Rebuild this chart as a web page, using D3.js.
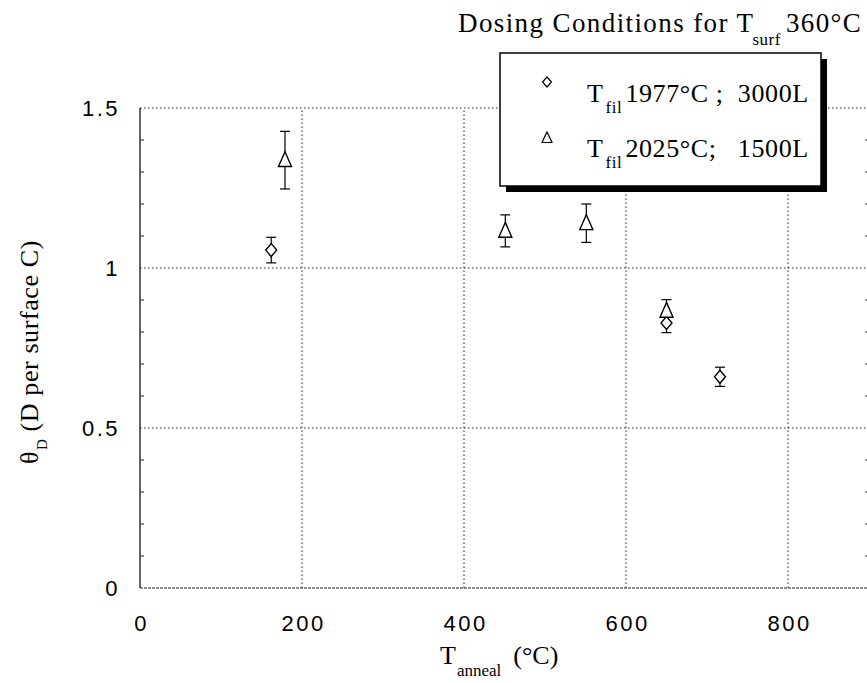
<!DOCTYPE html>
<html>
<head>
<meta charset="utf-8">
<script src="https://cdn.jsdelivr.net/npm/d3@7"></script>
<style>
    body { margin: 0; background: #fff; }
    svg { display: block; }
    .tick text { font-family: "Liberation Sans", Arial, sans-serif; font-size: 22px; letter-spacing: 2.5px; fill: #000; }
    .serif { font-family: "Liberation Serif", "Times New Roman", serif; fill: #000; white-space: pre; }
</style>
</head>
<body>
<div id="chart"></div>
<script>
// series 1: Tfil 1977°C ; 3000L (diamonds)
const diamondX = [162, 650, 716];
const diamondY = [1.056, 0.828, 0.66];
const diamondErr = [0.04, 0.03, 0.03];

// series 2: Tfil 2025°C ; 1500L (triangles)
const triangleX = [179, 451, 551, 650];
const triangleY = [1.337, 1.116, 1.14, 0.866];
const triangleErr = [0.09, 0.05, 0.06, 0.035];

const xTicks = [0, 200, 400, 600, 800];
const yTicks = [0, 0.5, 1, 1.5];
const yMinor = d3.range(1, 15).map((d) => d / 10);

const width = 867,
    height = 683;

const svg = d3
    .select("#chart")
    .append("svg")
    .attr("width", width)
    .attr("height", height);

const x = d3.scaleLinear().domain([0, 900]).range([140, 869]);
const y = d3.scaleLinear().domain([0, 1.5]).range([588, 108]);

// dotted grid
const grid = svg.append("g").attr("stroke", "#222").attr("stroke-width", 1).attr("stroke-dasharray", "1.5,2.5");
grid.selectAll(".gx")
    .data(xTicks.filter((d) => d > 0))
    .enter()
    .append("line")
    .attr("x1", (d) => x(d))
    .attr("x2", (d) => x(d))
    .attr("y1", y(0))
    .attr("y2", y(1.5));
grid.selectAll(".gy")
    .data([0.5, 1, 1.5])
    .enter()
    .append("line")
    .attr("x1", x(0))
    .attr("x2", x(900))
    .attr("y1", (d) => y(d))
    .attr("y2", (d) => y(d));

// frame: solid left, near-solid bottom
svg.append("line")
    .attr("x1", x(0)).attr("x2", x(0))
    .attr("y1", y(0)).attr("y2", y(1.5))
    .attr("stroke", "#000").attr("stroke-width", 1.2);
svg.append("line")
    .attr("x1", x(0)).attr("x2", x(900))
    .attr("y1", y(0)).attr("y2", y(0))
    .attr("stroke", "#222").attr("stroke-width", 1.2)
    .attr("stroke-dasharray", "3,1");

// minor ticks on both sides
const minor = svg.append("g").attr("stroke", "#333").attr("stroke-width", 1);
minor.selectAll(".ml")
    .data(yMinor.filter((d) => d % 0.5 !== 0))
    .enter()
    .append("line")
    .attr("x1", x(0)).attr("x2", x(0) + 4)
    .attr("y1", (d) => y(d)).attr("y2", (d) => y(d));
minor.selectAll(".mr")
    .data(yMinor.filter((d) => d % 0.5 !== 0))
    .enter()
    .append("line")
    .attr("x1", x(900) - 4).attr("x2", x(900))
    .attr("y1", (d) => y(d)).attr("y2", (d) => y(d));

// axes (labels only)
const xAxis = svg
    .append("g")
    .attr("transform", `translate(0, ${y(0)})`)
    .call(d3.axisBottom(x).tickValues(xTicks).tickSize(0).tickPadding(27).tickFormat((d) => String(d)));
xAxis.select(".domain").remove();
xAxis.selectAll("text").attr("dx", "1.2px");

const yAxis = svg
    .append("g")
    .attr("transform", `translate(${x(0)}, 0)`)
    .call(d3.axisLeft(y).tickValues(yTicks).tickSize(0).tickPadding(20).tickFormat((d) => String(d)));
yAxis.select(".domain").remove();

// error bars
function errorBars(xs, ys, es) {
    const g = svg.append("g").attr("stroke", "#000").attr("stroke-width", 1.2);
    xs.forEach((d, i) => {
        const cx = x(d);
        const top = y(ys[i] + es[i]);
        const bot = y(ys[i] - es[i]);
        g.append("line").attr("x1", cx).attr("x2", cx).attr("y1", top).attr("y2", bot);
        g.append("line").attr("x1", cx - 5).attr("x2", cx + 5).attr("y1", top).attr("y2", top);
        g.append("line").attr("x1", cx - 5).attr("x2", cx + 5).attr("y1", bot).attr("y2", bot);
    });
}
errorBars(diamondX, diamondY, diamondErr);
errorBars(triangleX, triangleY, triangleErr);

const diamondPath = (cx, cy, w, h) =>
    `M${cx},${cy - h} L${cx + w},${cy} L${cx},${cy + h} L${cx - w},${cy} Z`;
const trianglePath = (cx, cy, w, h) =>
    `M${cx},${cy - h} L${cx + w},${cy + h * 0.75} L${cx - w},${cy + h * 0.75} Z`;

svg.append("g")
    .selectAll("path")
    .data(diamondX)
    .enter()
    .append("path")
    .attr("d", (d, i) => diamondPath(x(d), y(diamondY[i]), 5.5, 6.5))
    .attr("fill", "#fff")
    .attr("stroke", "#000")
    .attr("stroke-width", 1.4);

svg.append("g")
    .selectAll("path")
    .data(triangleX)
    .enter()
    .append("path")
    .attr("d", (d, i) => trianglePath(x(d), y(triangleY[i]), 6.5, 8.5))
    .attr("fill", "#fff")
    .attr("stroke", "#000")
    .attr("stroke-width", 1.4);

// title
const title = svg.append("text")
    .attr("class", "serif")
    .attr("x", 458)
    .attr("y", 32)
    .style("font-size", "27px")
    .style("letter-spacing", "1.4px");
title.append("tspan").text("Dosing Conditions for T");
title.append("tspan").attr("dy", 13).attr("dx", -2).style("font-size", "17px").style("letter-spacing", "0.5px").text("surf");
title.append("tspan").attr("dy", -13).attr("dx", 5).text("360°C");

// legend box with drop shadow
const legend = svg.append("g");
legend.append("rect")
    .attr("x", 506).attr("y", 59)
    .attr("width", 321).attr("height", 133)
    .attr("fill", "#000");
legend.append("rect")
    .attr("x", 500).attr("y", 53)
    .attr("width", 321).attr("height", 133)
    .attr("fill", "#fff")
    .attr("stroke", "#000")
    .attr("stroke-width", 1.5);

legend.append("path")
    .attr("d", diamondPath(547, 82, 4.5, 5))
    .attr("fill", "none").attr("stroke", "#000").attr("stroke-width", 1.2);
legend.append("path")
    .attr("d", trianglePath(547, 138, 5, 6))
    .attr("fill", "none").attr("stroke", "#000").attr("stroke-width", 1.2);

const legendRows = [
    { y: 102, text: "1977°C ;  3000L" },
    { y: 157, text: "2025°C;   1500L" },
];
legendRows.forEach((r) => {
    const t = legend.append("text")
        .attr("class", "serif")
        .attr("x", 587)
        .attr("y", r.y)
        .style("font-size", "26px")
        .style("letter-spacing", "0.6px");
    t.append("tspan").text("T");
    t.append("tspan").attr("dy", 11).attr("dx", 2).style("font-size", "17px").text("fil");
    t.append("tspan").attr("dy", -11).attr("dx", 3).text(r.text);
});

// x axis label
const xl = svg.append("text")
    .attr("class", "serif")
    .attr("x", 440)
    .attr("y", 664)
    .style("font-size", "26px");
xl.append("tspan").text("T");
xl.append("tspan").attr("dy", 12).attr("dx", 1).style("font-size", "17px").text("anneal");
xl.append("tspan").attr("dy", -12).attr("dx", 12).text("(°C)");

// y axis label
const yl = svg.append("text")
    .attr("class", "serif")
    .attr("transform", "translate(38, 352) rotate(-90)")
    .attr("text-anchor", "middle")
    .style("font-size", "26px")
    .style("letter-spacing", "0.6px");
yl.append("tspan").text("θ");
yl.append("tspan").attr("dy", 9).attr("dx", 1).style("font-size", "15px").text("D");
yl.append("tspan").attr("dy", -9).attr("dx", 7).text("(D per surface C)");
</script>
</body>
</html>
